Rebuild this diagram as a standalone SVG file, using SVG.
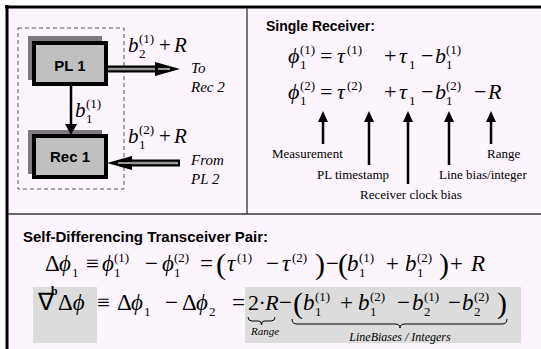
<svg xmlns="http://www.w3.org/2000/svg" width="541" height="349" viewBox="0 0 541 349">
<defs>
<style>
.m{font-family:"Liberation Serif","Times New Roman",serif;font-style:italic;fill:#000}
.u{font-family:"Liberation Serif","Times New Roman",serif;fill:#000}
.h{font-family:"Liberation Sans",Arial,sans-serif;font-weight:bold;fill:#000}
.lbl{font-family:"Liberation Serif","Times New Roman",serif;font-size:13px;fill:#000}
.ed{font-size:22px}
.eb{font-size:23px}
.sp{font-size:13px}
.node{fill:#c0c0c0;stroke:#000;stroke-width:4}
.shadow{fill:#7e7880}
.ar{stroke:#000;stroke-width:2.5;fill:none}
</style>
</defs>
<rect x="0" y="0" width="541" height="349" fill="#fff"/>
<rect x="7" y="7" width="534" height="342" fill="#fdf5fd"/>
<rect x="33" y="287" width="64" height="56" fill="#dcdcdc"/>
<rect x="245" y="287" width="276" height="56" fill="#dcdcdc"/>
<g id="frame" stroke="#000">
<line x1="5" y1="7" x2="541" y2="7" stroke-width="3"/>
<line x1="7" y1="5" x2="7" y2="349" stroke-width="3"/>
<line x1="247" y1="8" x2="247" y2="214" stroke="#333" stroke-width="1.3"/>
<line x1="8" y1="214" x2="541" y2="214" stroke="#333" stroke-width="1.3"/>
</g>
<rect x="18" y="28" width="106" height="161" fill="none" stroke="#555" stroke-width="1" stroke-dasharray="4,3"/>
<g id="pl1">
<rect class="shadow" x="28" y="36" width="74" height="44"/>
<rect class="node" x="34" y="43" width="72" height="41"/>
<text class="h" x="70" y="71" font-size="15" text-anchor="middle">PL 1</text>
</g>
<g id="rec1">
<rect class="shadow" x="28" y="130" width="74" height="44"/>
<rect class="node" x="34" y="136" width="72" height="41"/>
<text class="h" x="70" y="162" font-size="15" text-anchor="middle">Rec 1</text>
</g>
<g id="connectors">
<line x1="71" y1="86" x2="71" y2="127" stroke="#000" stroke-width="2.5"/>
<polygon points="65,124 77,124 71,135" fill="#000"/>
<line x1="108" y1="69" x2="160" y2="69" stroke="#000" stroke-width="7"/>
<line x1="108" y1="69" x2="166" y2="69" stroke="#999" stroke-width="2.5"/>
<polygon points="155,62 180,69 155,76" fill="#000"/>
<line x1="158" y1="69" x2="170" y2="69" stroke="#999" stroke-width="2"/>
<line x1="128" y1="163" x2="180" y2="163" stroke="#000" stroke-width="7"/>
<line x1="120" y1="163" x2="178" y2="163" stroke="#999" stroke-width="2.5"/>
<polygon points="132,156 107,163 132,170" fill="#000"/>
<line x1="118" y1="163" x2="132" y2="163" stroke="#999" stroke-width="2"/>
</g>
<g id="left-labels">
<text class="m" x="128" y="52" font-size="21">b</text>
<text class="u sp" x="139" y="43">(1)</text>
<text class="u sp" x="139" y="58">2</text>
<text class="u" x="159" y="52" font-size="21">+</text>
<text class="m" x="174" y="52" font-size="21">R</text>
<text class="m" x="128" y="143" font-size="21">b</text>
<text class="u sp" x="139" y="134">(2)</text>
<text class="u sp" x="139" y="149">1</text>
<text class="u" x="159" y="143" font-size="21">+</text>
<text class="m" x="174" y="143" font-size="21">R</text>
<text class="m" x="75" y="117" font-size="21">b</text>
<text class="u sp" x="86" y="108">(1)</text>
<text class="u sp" x="86" y="123">1</text>
<text class="m" x="191" y="73" font-size="15">To</text>
<text class="m" x="191" y="92" font-size="15">Rec 2</text>
<text class="m" x="191" y="165" font-size="15">From</text>
<text class="m" x="191" y="184" font-size="15">PL 2</text>
</g>
<g id="single-receiver">
<text class="h" x="266" y="31" font-size="14">Single Receiver:</text>
<g class="ed">
<text class="m" x="288" y="63">ϕ</text>
<text class="u sp" x="300" y="54">(1)</text>
<text class="u sp" x="300" y="69">1</text>
<text class="u" x="320" y="63">=</text>
<text class="m" x="337" y="63">τ</text>
<text class="u sp" x="347" y="54">(1)</text>
<text class="u" x="384" y="63">+</text>
<text class="m" x="399" y="63">τ</text>
<text class="u sp" x="409" y="69">1</text>
<text class="u" x="421" y="63">−</text>
<text class="m" x="435" y="63">b</text>
<text class="u sp" x="446" y="54">(1)</text>
<text class="u sp" x="446" y="69">1</text>
<text class="m" x="288" y="99">ϕ</text>
<text class="u sp" x="300" y="90">(2)</text>
<text class="u sp" x="300" y="105">1</text>
<text class="u" x="320" y="99">=</text>
<text class="m" x="337" y="99">τ</text>
<text class="u sp" x="347" y="90">(2)</text>
<text class="u" x="384" y="99">+</text>
<text class="m" x="399" y="99">τ</text>
<text class="u sp" x="409" y="105">1</text>
<text class="u" x="421" y="99">−</text>
<text class="m" x="435" y="99">b</text>
<text class="u sp" x="446" y="90">(2)</text>
<text class="u sp" x="446" y="105">1</text>
<text class="u" x="474" y="99">−</text>
<text class="m" x="488" y="99">R</text>
</g>
<g id="annotations">
<line class="ar" x1="323" y1="144" x2="323" y2="122"/>
<polygon points="318,122 328,122 323,111" fill="#000"/>
<line class="ar" x1="369" y1="165" x2="369" y2="122"/>
<polygon points="364,122 374,122 369,111" fill="#000"/>
<line class="ar" x1="408" y1="184" x2="408" y2="122"/>
<polygon points="403,122 413,122 408,111" fill="#000"/>
<line class="ar" x1="449" y1="165" x2="449" y2="122"/>
<polygon points="444,122 454,122 449,111" fill="#000"/>
<line class="ar" x1="491" y1="144" x2="491" y2="122"/>
<polygon points="486,122 496,122 491,111" fill="#000"/>
<text class="lbl" x="272" y="158">Measurement</text>
<text class="lbl" x="317" y="179">PL timestamp</text>
<text class="lbl" x="360" y="199">Receiver clock bias</text>
<text class="lbl" x="439" y="179">Line bias/integer</text>
<text class="lbl" x="487" y="158">Range</text>
</g>
</g>
<g id="self-differencing">
<text class="h" x="23" y="242" font-size="15">Self-Differencing Transceiver Pair:</text>
<g class="eb">
<text class="u" x="45" y="271">Δ</text>
<text class="m" x="59" y="271">ϕ</text>
<text class="u sp" x="72" y="277">1</text>
<text class="u" x="86" y="271">≡</text>
<text class="m" x="102" y="271">ϕ</text>
<text class="u sp" x="114" y="262">(1)</text>
<text class="u sp" x="114" y="277">1</text>
<text class="u" x="145" y="271">−</text>
<text class="m" x="162" y="271">ϕ</text>
<text class="u sp" x="174" y="262">(2)</text>
<text class="u sp" x="174" y="277">1</text>
<text class="u" x="200" y="271">=</text>
<text class="u" x="216" y="274" font-size="30">(</text>
<text class="m" x="227" y="271">τ</text>
<text class="u sp" x="237" y="262">(1)</text>
<text class="u" x="266" y="271">−</text>
<text class="m" x="282" y="271">τ</text>
<text class="u sp" x="292" y="262">(2)</text>
<text class="u" x="315" y="274" font-size="30">)</text>
<text class="u" x="326" y="271">−</text>
<text class="u" x="338" y="274" font-size="30">(</text>
<text class="m" x="347" y="271">b</text>
<text class="u sp" x="359" y="262">(1)</text>
<text class="u sp" x="359" y="277">1</text>
<text class="u" x="386" y="271">+</text>
<text class="m" x="405" y="271">b</text>
<text class="u sp" x="417" y="262">(2)</text>
<text class="u sp" x="417" y="277">1</text>
<text class="u" x="439" y="274" font-size="30">)</text>
<text class="u" x="450" y="271">+</text>
<text class="m" x="471" y="271">R</text>

<text class="u" x="38" y="310" font-size="24">∇<tspan font-size="12" font-weight="bold" dx="-3" dy="-15">b</tspan></text>
<text class="u" x="58" y="310">Δ<tspan class="m">ϕ</tspan></text>
<text class="u" x="97" y="310">≡</text>
<text class="u" x="117" y="310">Δ</text>
<text class="m" x="131" y="310">ϕ</text>
<text class="u sp" x="144" y="316">1</text>
<text class="u" x="165" y="310">−</text>
<text class="u" x="182" y="310">Δ</text>
<text class="m" x="196" y="310">ϕ</text>
<text class="u sp" x="209" y="316">2</text>
<text class="u" x="232" y="310">=</text>
<text class="u" x="248" y="310" font-size="22">2<tspan dx="-0.5">·</tspan><tspan class="m" dx="-0.5">R</tspan></text>
<text class="u" x="279" y="310">−</text>
<text class="u" x="293" y="313" font-size="30">(</text>
<text class="m" x="303" y="310">b</text>
<text class="u sp" x="315" y="301">(1)</text>
<text class="u sp" x="315" y="316">1</text>
<text class="u" x="340" y="310">+</text>
<text class="m" x="358" y="310">b</text>
<text class="u sp" x="370" y="301">(2)</text>
<text class="u sp" x="370" y="316">1</text>
<text class="u" x="397" y="310">−</text>
<text class="m" x="412" y="310">b</text>
<text class="u sp" x="424" y="301">(1)</text>
<text class="u sp" x="424" y="316">2</text>
<text class="u" x="448" y="310">−</text>
<text class="m" x="462" y="310">b</text>
<text class="u sp" x="474" y="301">(2)</text>
<text class="u sp" x="474" y="316">2</text>
<text class="u" x="497" y="313" font-size="30">)</text>
</g>
<path d="M248,317 Q248,321 252,321 L259,321 Q261.5,321 261.5,325 Q261.5,321 264,321 L271,321 Q275,321 275,317" fill="none" stroke="#000" stroke-width="1"/>
<path d="M292,319 Q292,324 297,324 L395,324 Q400,324 400,328 Q400,324 405,324 L502,324 Q507,324 507,319" fill="none" stroke="#000" stroke-width="1"/>
<text class="m" x="251" y="335" font-size="11">Range</text>
<text class="m" x="400" y="341" font-size="12" text-anchor="middle">LineBiases / Integers</text>
</g>
</svg>
